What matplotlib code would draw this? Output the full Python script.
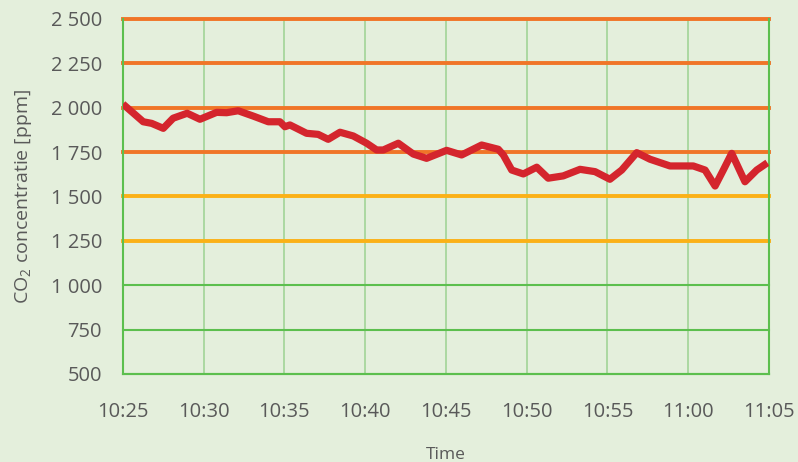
import matplotlib.pyplot as plt

plt.rcParams['font.family'] = ['Open Sans', 'DejaVu Sans']
plt.rcParams['mathtext.fontset'] = 'custom'
plt.rcParams['mathtext.rm'] = 'Open Sans'

# minutes after 10:25 and CO2 concentration
minutes = [0.0, 1.26, 1.78, 2.50, 3.11, 3.98, 4.77, 5.80, 6.42, 7.14,
           8.07, 9.00, 9.72, 10.03, 10.34, 11.37, 12.09, 12.71, 13.44, 14.26,
           15.09, 15.71, 16.12, 17.05, 17.98, 18.80, 20.04, 20.97, 22.21, 23.24,
           23.55, 24.07, 24.79, 25.62, 26.33, 27.26, 28.30, 29.23, 30.15, 30.88,
           31.81, 32.63, 33.87, 35.31, 36.04, 36.66, 37.17, 37.69, 38.51, 39.24,
           39.90]
co2 = [2021, 1921, 1912, 1884, 1941, 1969, 1935, 1974, 1972, 1983,
       1953, 1921, 1921, 1893, 1903, 1856, 1850, 1822, 1862, 1841,
       1800, 1762, 1762, 1800, 1739, 1715, 1760, 1734, 1790, 1766,
       1734, 1649, 1627, 1665, 1603, 1616, 1653, 1640, 1597, 1649,
       1747, 1710, 1672, 1672, 1649, 1559, 1649, 1743, 1583, 1649,
       1690]

x_ticks = [0, 5, 10, 15, 20, 25, 30, 35, 40]
x_labels = ['10:25', '10:30', '10:35', '10:40', '10:45', '10:50', '10:55', '11:00', '11:05']
y_ticks = [500, 750, 1000, 1250, 1500, 1750, 2000, 2250, 2500]
y_labels = ['500', '750', '1 000', '1 250', '1 500', '1 750', '2 000', '2 250', '2 500']

bg = '#e4efdc'
green = '#5cbf4e'
light_green = '#a6d69c'
yellow = '#fbb118'
orange = '#f07528'
red = '#d4252d'
text_col = '#595959'

fig = plt.figure(figsize=(7.98, 4.62), dpi=100, facecolor=bg)
ax = fig.add_axes([0.154, 0.1905, 0.8097, 0.7684])
ax.set_facecolor(bg)

for t in x_ticks[1:-1]:
    ax.axvline(t, color=light_green, lw=1.3, zorder=1)

for v in y_ticks:
    if v <= 1000:
        ax.axhline(v, color=green, lw=1.5, zorder=2, clip_on=False)
    elif v <= 1500:
        ax.axhline(v, color=yellow, lw=2.8, zorder=2, clip_on=False)
    else:
        ax.axhline(v, color=orange, lw=2.8, zorder=2, clip_on=False)

ax.plot(minutes, co2, color=red, lw=5.2, solid_joinstyle='round',
        solid_capstyle='butt', zorder=3)

ax.set_xlim(0, 40)
ax.set_ylim(500, 2500)
ax.set_xticks(x_ticks)
ax.set_xticklabels(x_labels)
ax.set_yticks(y_ticks)
ax.set_yticklabels(y_labels)
ax.tick_params(axis='x', length=0, pad=20, labelsize=14.5, labelcolor=text_col)
ax.tick_params(axis='y', length=0, pad=15, labelsize=14.5, labelcolor=text_col)

for side in ['left', 'right', 'bottom']:
    ax.spines[side].set_color(green)
    ax.spines[side].set_linewidth(1.5)
ax.spines['top'].set_visible(False)

ax.set_ylabel(r'CO$_\mathrm{2}$ concentratie [ppm]', fontsize=14, color=text_col, labelpad=12)
ax.set_xlabel('Time', fontsize=12.5, color=text_col, labelpad=18)

fig.savefig('out.png', dpi=100, facecolor=bg)
